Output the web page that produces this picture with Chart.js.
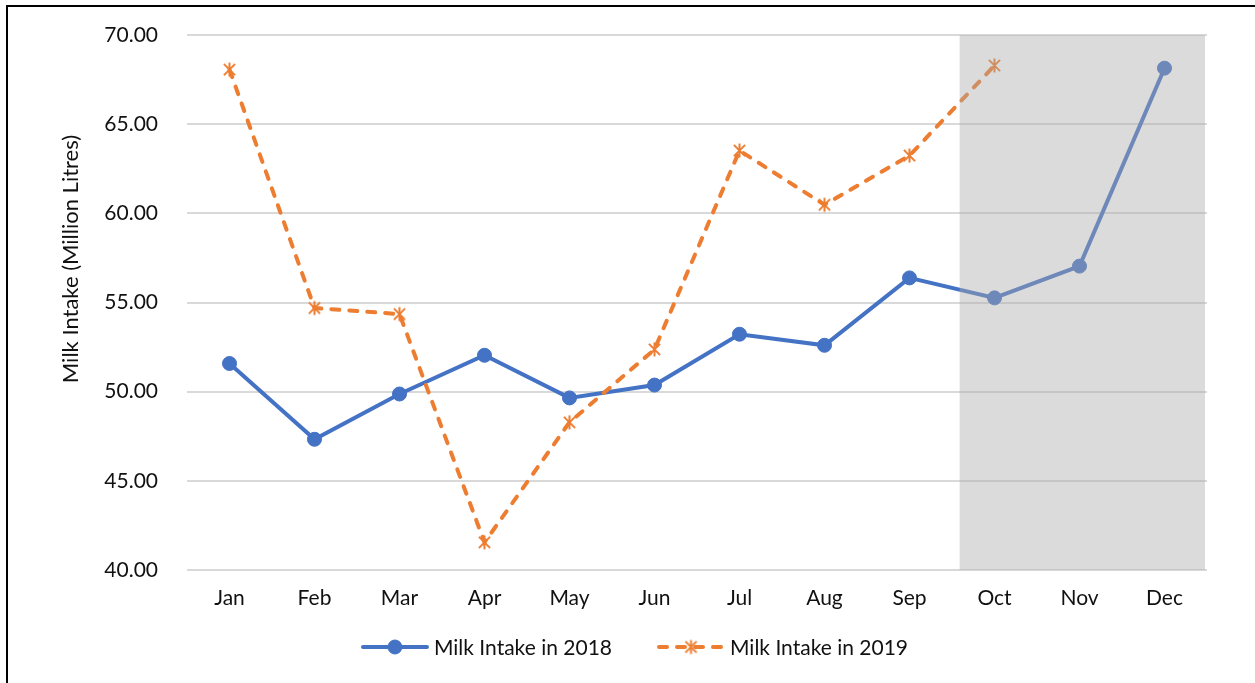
<!DOCTYPE html>
<html>
<head>
<meta charset="utf-8">
<script src="https://cdn.jsdelivr.net/npm/chart.js@4/dist/chart.umd.min.js"></script>
<style>
html,body{margin:0;padding:0;background:#fff;}
#wrap{position:relative;width:1255px;height:683px;}
</style>
</head>
<body>
<div id="wrap"><canvas id="c" width="1255" height="683"></canvas></div>
<script>
const months = ['Jan','Feb','Mar','Apr','May','Jun','Jul','Aug','Sep','Oct','Nov','Dec'];
const intake2018 = [51.58, 47.33, 49.87, 52.04, 49.65, 50.37, 53.22, 52.60, 56.38, 55.26, 57.04, 68.14];
const intake2019 = [68.06, 54.69, 54.35, 41.55, 48.28, 52.37, 63.52, 60.48, 63.24, 68.29, null, null];
const yTicks = [40, 45, 50, 55, 60, 65, 70];
const seriesNames = ['Milk Intake in 2018', 'Milk Intake in 2019'];
const shadeFrom = 'Oct';
const axisTitle = 'Milk Intake (Million Litres)';

const FONT = 'Lato, "Open Sans", sans-serif';
const BLUE = '#4472c4';
const ORANGE = '#ed7d31';

function makeAsterisk(color, size) {
  const c = document.createElement('canvas');
  c.width = size; c.height = size;
  const g = c.getContext('2d');
  const m = size / 2, r = size / 2 - 1.5;
  g.strokeStyle = color;
  g.lineWidth = 2;
  g.beginPath();
  g.moveTo(m - r * 0.8, m - r * 0.8); g.lineTo(m + r * 0.8, m + r * 0.8);
  g.moveTo(m + r * 0.8, m - r * 0.8); g.lineTo(m - r * 0.8, m + r * 0.8);
  g.moveTo(m, m - r); g.lineTo(m, m + r);
  g.stroke();
  return c;
}
const asterisk = makeAsterisk(ORANGE, 17);

const framePlugin = {
  id: 'frame',
  beforeDraw(chart) {
    const ctx = chart.ctx;
    ctx.save();
    ctx.fillStyle = '#fff';
    ctx.fillRect(0, 0, chart.width, chart.height);
    ctx.strokeStyle = '#000';
    ctx.lineWidth = 2;
    ctx.beginPath();
    ctx.moveTo(7, chart.height);
    ctx.lineTo(7, 6);
    ctx.lineTo(chart.width, 6);
    ctx.stroke();
    ctx.restore();
  }
};

const shadePlugin = {
  id: 'shade',
  afterDatasetsDraw(chart) {
    const x = chart.scales.x, ca = chart.chartArea;
    const i = months.indexOf(shadeFrom);
    const step = x.getPixelForValue(1) - x.getPixelForValue(0);
    const left = x.getPixelForValue(i) - 0.41 * step;
    const right = ca.right - 2;
    const ctx = chart.ctx;
    ctx.save();
    ctx.fillStyle = 'rgba(170,170,170,0.42)';
    ctx.fillRect(left, ca.top, right - left, ca.bottom - ca.top);
    ctx.restore();
  }
};

const extrasPlugin = {
  id: 'extras',
  afterDraw(chart) {
    const ctx = chart.ctx;
    ctx.save();
    ctx.fillStyle = '#111';
    ctx.font = '22px ' + FONT;
    ctx.textAlign = 'center';
    ctx.textBaseline = 'middle';
    ctx.translate(71, 259);
    ctx.rotate(-Math.PI / 2);
    ctx.fillText(axisTitle, 0, 0);
    ctx.restore();

    ctx.save();
    ctx.font = '21px ' + FONT;
    ctx.textBaseline = 'middle';
    ctx.textAlign = 'left';
    const y = 647;
    const items = chart.data.datasets;
    const lineLen = 68, gapText = 5, gapItems = 45;
    const widths = items.map(d => lineLen + gapText + ctx.measureText(d.label).width);
    const total = widths.reduce((a, b) => a + b, 0) + gapItems;
    let x0 = (chart.width - total) / 2 + 7;
    items.forEach((d, k) => {
      ctx.save();
      ctx.strokeStyle = d.borderColor;
      ctx.lineWidth = d.borderWidth;
      ctx.lineCap = 'round';
      if (d.borderDash) ctx.setLineDash(d.borderDash);
      ctx.beginPath();
      ctx.moveTo(x0 + 2, y);
      ctx.lineTo(x0 + lineLen - 2, y);
      ctx.stroke();
      ctx.setLineDash([]);
      ctx.strokeStyle = d.pointBorderColor;
      ctx.fillStyle = d.pointBackgroundColor;
      ctx.lineWidth = d.pointBorderWidth;
      Chart.helpers.drawPoint(ctx, {
        pointStyle: d.pointStyle, radius: d.pointRadius, borderWidth: d.pointBorderWidth, rotation: 0
      }, x0 + lineLen / 2, y);
      ctx.restore();
      ctx.fillStyle = '#111';
      ctx.fillText(d.label, x0 + lineLen + gapText, y + 1);
      x0 += widths[k] + gapItems;
    });
    ctx.restore();
  }
};

new Chart(document.getElementById('c'), {
  type: 'line',
  data: {
    labels: months,
    datasets: [
      {
        label: seriesNames[0], data: intake2018,
        borderColor: BLUE, backgroundColor: BLUE, borderWidth: 4,
        pointStyle: 'circle', pointRadius: 7,
        pointBackgroundColor: BLUE, pointBorderColor: BLUE, pointBorderWidth: 1,
        tension: 0, order: 2
      },
      {
        label: seriesNames[1], data: intake2019,
        borderColor: ORANGE, backgroundColor: ORANGE, borderWidth: 4,
        borderDash: [8, 10], borderCapStyle: 'round',
        pointStyle: asterisk, pointRadius: 8,
        pointBackgroundColor: ORANGE, pointBorderColor: ORANGE, pointBorderWidth: 2,
        tension: 0, spanGaps: false, order: 1
      }
    ]
  },
  options: {
    responsive: false, animation: false, devicePixelRatio: 1,
    layout: { autoPadding: false, padding: { left: 0, top: 35, right: 48, bottom: 73 } },
    plugins: { legend: { display: false }, tooltip: { enabled: false }, title: { display: false } },
    scales: {
      x: {
        offset: true,
        grid: { display: false, drawTicks: false },
        border: { display: false },
        ticks: { color: '#111', font: { family: FONT, size: 21 }, padding: 16, maxRotation: 0 },
        afterFit(s) { s.height = 40; }
      },
      y: {
        min: 40, max: 70,
        afterBuildTicks(s) { s.ticks = yTicks.map(v => ({ value: v })); },
        grid: { color: '#d9d9d9', lineWidth: 2, drawTicks: false },
        border: { display: false },
        ticks: { color: '#111', font: { family: FONT, size: 21 }, padding: 29, callback: v => Number(v).toFixed(2) },
        afterFit(s) { s.width = 187; s.paddingTop = 0; s.paddingBottom = 0; }
      }
    }
  },
  plugins: [framePlugin, shadePlugin, extrasPlugin]
});
</script>
</body>
</html>
